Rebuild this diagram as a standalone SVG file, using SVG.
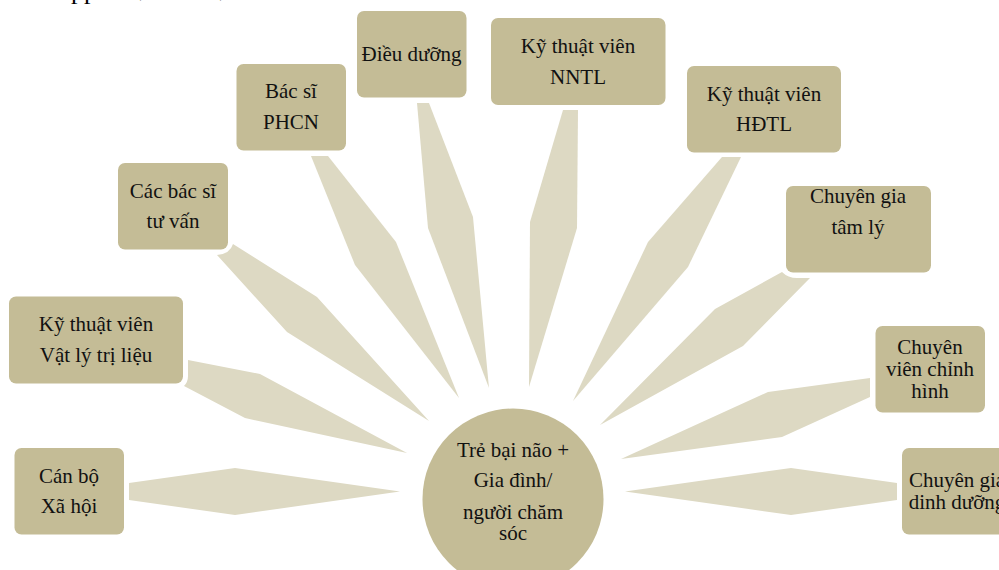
<svg xmlns="http://www.w3.org/2000/svg" width="999" height="570" viewBox="0 0 999 570">
<style>
.box{fill:#C4BC96;stroke:#fff;stroke-width:2;paint-order:stroke}
.link{fill:#DDD9C3}
text{font-family:"Liberation Serif","Times New Roman",serif;font-size:21px;fill:#111;text-anchor:middle}
.clip{font-size:26px;text-anchor:start;fill:#000}
</style>
<rect width="999" height="570" fill="#fff"/>
<g id="clipped-heading">
<text class="clip" x="71" y="-1.500">pp</text>
<text class="clip" x="139" y="-3">,</text>
<text class="clip" x="219" y="-3">,</text>
</g>
<g id="connectors">
<path class="link" d="M129 483L235 468L400 491.5L235 515L129 500Z"/>
<path class="link" d="M188 360L260 374L407 453L245 418L184 386Q188 382 188 376Z"/>
<path class="link" d="M233 244L317 297L429 421L287 332L217 255Q230 254 233 244Z"/>
<path class="link" d="M311 156L328 156L396 242L459 398L355 265Z"/>
<path class="link" d="M417 103L429 103L473 217L489 388L428 228Z"/>
<path class="link" d="M563 110L578 110L577 228L529 387L530 222Z"/>
<path class="link" d="M722 157L741 157L688 267L573 401L648 242Z"/>
<path class="link" d="M782 272Q788 278 797 278L810 278L743 346L600 425L715 309Z"/>
<path class="link" d="M870 378L870 397L782 437L621 459L768 392Z"/>
<path class="link" d="M897 483L791 468L625 491.5L791 515L897 500Z"/>
</g>
<g id="node-center"><circle cx="513" cy="499" r="90.500" fill="#C4BC96"/>
<text x="513" y="457">Trẻ bại não +</text><text x="513" y="487">Gia đình/</text><text x="513" y="519">người chăm</text><text x="513" y="540">sóc</text></g>
<g id="node-canbo"><rect class="box" x="14.500" y="448" width="109.500" height="86.500" rx="7"/><text x="69" y="483">Cán bộ</text><text x="69" y="513">Xã hội</text></g>
<g id="node-vltl"><rect class="box" x="9" y="296.500" width="174" height="87" rx="7"/><text x="96" y="331">Kỹ thuật viên</text><text x="96" y="362">Vật lý trị liệu</text></g>
<g id="node-tuvan"><rect class="box" x="118" y="163" width="110" height="86.500" rx="7"/><text x="173" y="198">Các bác sĩ</text><text x="173" y="228">tư vấn</text></g>
<g id="node-phcn"><rect class="box" x="236.500" y="64" width="109.500" height="86.500" rx="7"/><text x="291" y="98">Bác sĩ</text><text x="291" y="129">PHCN</text></g>
<g id="node-dieuduong"><rect class="box" x="357" y="11" width="109.500" height="86.500" rx="7"/><text x="411.500" y="61">Điều dưỡng</text></g>
<g id="node-nntl"><rect class="box" x="491" y="18" width="174.500" height="87" rx="7"/><text x="578" y="53">Kỹ thuật viên</text><text x="578" y="84">NNTL</text></g>
<g id="node-hdtl"><rect class="box" x="687" y="66" width="154" height="86.500" rx="7"/><text x="764" y="101">Kỹ thuật viên</text><text x="764" y="131">HĐTL</text></g>
<g id="node-tamly"><rect class="box" x="786" y="186" width="145" height="86.500" rx="7"/><text x="858" y="203">Chuyên gia</text><text x="858" y="234">tâm lý</text></g>
<g id="node-chinhhinh"><rect class="box" x="875.500" y="326" width="109.500" height="86.500" rx="7"/><text x="930" y="354">Chuyên</text><text x="930" y="376">viên chỉnh</text><text x="930" y="398">hình</text></g>
<g id="node-dinhduong"><rect class="box" x="902" y="448" width="110" height="86.500" rx="7"/><text x="957" y="487">Chuyên gia</text><text x="957" y="509">dinh dưỡng</text></g>
</svg>
